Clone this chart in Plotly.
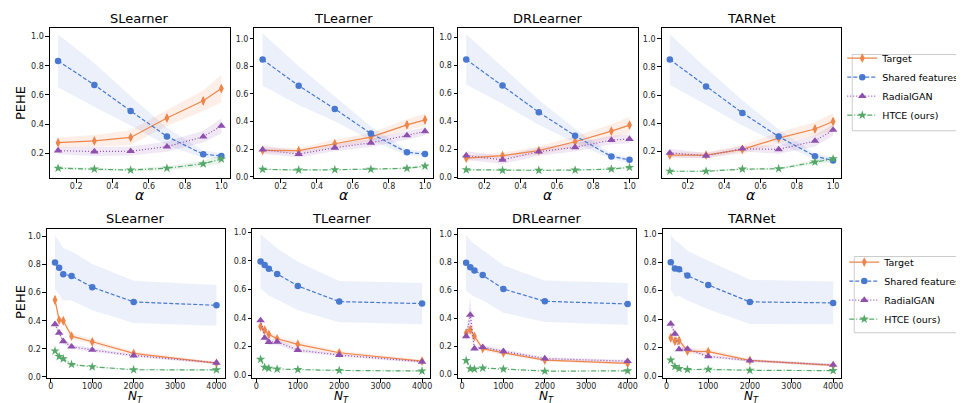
import plotly.graph_objects as go

# ---------------- data ----------------
alpha = [0.1, 0.3, 0.5, 0.7, 0.9, 1.0]
n_t = [100, 200, 300, 500, 1000, 2000, 4000]
learners = ["SLearner", "TLearner", "DRLearner", "TARNet"]
series_names = ["Target", "Shared features", "RadialGAN", "HTCE (ours)"]
alpha_ticks = [0.2, 0.4, 0.6, 0.8, 1.0]
n_ticks = [0, 1000, 2000, 3000, 4000]

# --- top row: PEHE vs alpha ---
sl_a_target = [0.274, 0.286, 0.310, 0.443, 0.560, 0.644]
sl_a_target_sd = [0.035, 0.040, 0.050, 0.055, 0.070, 0.095]
sl_a_target_err = [0.020, 0.020, 0.020, 0.020, 0.025, 0.025]
sl_a_shared = [0.833, 0.669, 0.491, 0.317, 0.195, 0.184]
sl_a_shared_sd = [0.180, 0.150, 0.100, 0.060, 0.025, 0.020]
sl_a_radial = [0.220, 0.214, 0.216, 0.247, 0.315, 0.389]
sl_a_radial_sd = [0.025, 0.030, 0.030, 0.035, 0.040, 0.050]
sl_a_htce = [0.100, 0.094, 0.087, 0.100, 0.130, 0.162]
sl_a_htce_sd = [0.010, 0.010, 0.010, 0.015, 0.020, 0.030]

tl_a_target = [0.192, 0.190, 0.240, 0.288, 0.377, 0.413]
tl_a_target_sd = [0.020, 0.020, 0.030, 0.030, 0.040, 0.045]
tl_a_target_err = [0.020, 0.020, 0.020, 0.020, 0.025, 0.030]
tl_a_shared = [0.849, 0.660, 0.492, 0.314, 0.178, 0.165]
tl_a_shared_sd = [0.190, 0.140, 0.090, 0.050, 0.020, 0.020]
tl_a_radial = [0.197, 0.165, 0.211, 0.247, 0.300, 0.330]
tl_a_radial_sd = [0.030, 0.025, 0.025, 0.030, 0.030, 0.030]
tl_a_htce = [0.055, 0.050, 0.052, 0.055, 0.062, 0.078]
tl_a_htce_sd = [0.005, 0.005, 0.005, 0.005, 0.008, 0.010]

dr_a_target = [0.135, 0.154, 0.189, 0.253, 0.329, 0.372]
dr_a_target_sd = [0.020, 0.020, 0.030, 0.040, 0.050, 0.060]
dr_a_target_err = [0.020, 0.020, 0.020, 0.020, 0.025, 0.025]
dr_a_shared = [0.842, 0.655, 0.464, 0.296, 0.147, 0.123]
dr_a_shared_sd = [0.180, 0.130, 0.090, 0.050, 0.020, 0.020]
dr_a_radial = [0.154, 0.123, 0.182, 0.213, 0.265, 0.272]
dr_a_radial_sd = [0.030, 0.030, 0.030, 0.030, 0.030, 0.030]
dr_a_htce = [0.052, 0.048, 0.048, 0.050, 0.057, 0.069]
dr_a_htce_sd = [0.005, 0.005, 0.005, 0.005, 0.006, 0.008]

tn_a_target = [0.175, 0.175, 0.215, 0.295, 0.360, 0.413]
tn_a_target_sd = [0.020, 0.020, 0.030, 0.040, 0.050, 0.060]
tn_a_target_err = [0.020, 0.020, 0.020, 0.020, 0.025, 0.025]
tn_a_shared = [0.853, 0.662, 0.474, 0.306, 0.167, 0.136]
tn_a_shared_sd = [0.180, 0.130, 0.090, 0.050, 0.020, 0.020]
tn_a_radial = [0.190, 0.170, 0.220, 0.215, 0.275, 0.353]
tn_a_radial_sd = [0.030, 0.020, 0.020, 0.030, 0.040, 0.040]
tn_a_htce = [0.060, 0.060, 0.075, 0.078, 0.125, 0.148]
tn_a_htce_sd = [0.005, 0.005, 0.008, 0.008, 0.015, 0.020]

# --- bottom row: PEHE vs N_T ---
sl_n_target = [0.548, 0.405, 0.400, 0.290, 0.250, 0.168, 0.098]
sl_n_target_sd = [0.030, 0.025, 0.025, 0.020, 0.020, 0.015, 0.010]
sl_n_target_err = [0.030, 0.020, 0.020, 0.020, 0.020, 0.015, 0.010]
sl_n_shared = [0.815, 0.777, 0.731, 0.719, 0.639, 0.534, 0.510]
sl_n_shared_sd = [0.190, 0.190, 0.185, 0.175, 0.165, 0.150, 0.145]
sl_n_radial = [0.375, 0.314, 0.253, 0.215, 0.192, 0.152, 0.100]
sl_n_radial_sd = [0.020, 0.020, 0.020, 0.015, 0.015, 0.010, 0.010]
sl_n_htce = [0.185, 0.145, 0.129, 0.089, 0.072, 0.051, 0.050]
sl_n_htce_sd = [0.010, 0.010, 0.008, 0.006, 0.005, 0.004, 0.004]

tl_n_target = [0.340, 0.315, 0.285, 0.254, 0.215, 0.156, 0.098]
tl_n_target_sd = [0.030, 0.025, 0.020, 0.020, 0.020, 0.015, 0.010]
tl_n_target_err = [0.025, 0.020, 0.020, 0.020, 0.020, 0.015, 0.010]
tl_n_shared = [0.797, 0.772, 0.746, 0.709, 0.625, 0.515, 0.501]
tl_n_shared_sd = [0.190, 0.190, 0.190, 0.180, 0.170, 0.145, 0.145]
tl_n_radial = [0.383, 0.260, 0.231, 0.233, 0.175, 0.140, 0.093]
tl_n_radial_sd = [0.020, 0.020, 0.020, 0.020, 0.015, 0.010, 0.010]
tl_n_htce = [0.110, 0.054, 0.047, 0.042, 0.038, 0.032, 0.028]
tl_n_htce_sd = [0.008, 0.005, 0.004, 0.004, 0.003, 0.003, 0.003]

dr_n_target = [0.295, 0.319, 0.272, 0.184, 0.154, 0.102, 0.078]
dr_n_target_sd = [0.030, 0.030, 0.020, 0.015, 0.015, 0.010, 0.010]
dr_n_target_err = [0.025, 0.025, 0.020, 0.015, 0.015, 0.010, 0.010]
dr_n_shared = [0.797, 0.766, 0.742, 0.709, 0.610, 0.522, 0.503]
dr_n_shared_sd = [0.200, 0.190, 0.190, 0.180, 0.170, 0.148, 0.150]
dr_n_radial = [0.272, 0.425, 0.184, 0.194, 0.165, 0.113, 0.094]
dr_n_radial_sd = [0.030, 0.130, 0.020, 0.015, 0.015, 0.010, 0.010]
dr_n_htce = [0.099, 0.040, 0.038, 0.045, 0.038, 0.023, 0.025]
dr_n_htce_sd = [0.008, 0.004, 0.004, 0.004, 0.003, 0.003, 0.003]

tn_n_target = [0.269, 0.245, 0.250, 0.175, 0.171, 0.110, 0.075]
tn_n_target_sd = [0.030, 0.030, 0.030, 0.020, 0.020, 0.010, 0.010]
tn_n_target_err = [0.025, 0.025, 0.025, 0.020, 0.020, 0.010, 0.010]
tn_n_shared = [0.800, 0.755, 0.750, 0.706, 0.640, 0.521, 0.514]
tn_n_shared_sd = [0.195, 0.200, 0.185, 0.175, 0.170, 0.155, 0.150]
tn_n_radial = [0.367, 0.297, 0.187, 0.190, 0.138, 0.108, 0.078]
tn_n_radial_sd = [0.020, 0.020, 0.015, 0.015, 0.010, 0.010, 0.010]
tn_n_htce = [0.112, 0.066, 0.052, 0.045, 0.047, 0.040, 0.038]
tn_n_htce_sd = [0.008, 0.005, 0.004, 0.004, 0.004, 0.003, 0.003]

# ---------------- styling ----------------
W, H = 964, 403
colors = ["#ee854a", "#4878d0", "#8e4fae", "#55a868"]
fills = ["rgba(238,133,74,0.13)", "rgba(72,120,208,0.11)",
         "rgba(142,79,174,0.13)", "rgba(85,168,104,0.13)"]
dashes = ["solid", "4px,2px", "1px,2px", "5px,2px,1px,2px"]
symbols = ["diamond-tall", "circle", "triangle-up", "star"]
msizes = [7, 6.5, 7.5, 7]

panels = [
    ("top", alpha, [(sl_a_target, sl_a_target_sd), (sl_a_shared, sl_a_shared_sd), (sl_a_radial, sl_a_radial_sd), (sl_a_htce, sl_a_htce_sd)], sl_a_target_err, (42, 222), (0.031, 1.059)),
    ("top", alpha, [(tl_a_target, tl_a_target_sd), (tl_a_shared, tl_a_shared_sd), (tl_a_radial, tl_a_radial_sd), (tl_a_htce, tl_a_htce_sd)], tl_a_target_err, (247, 426), (-0.010, 1.079)),
    ("top", alpha, [(dr_a_target, dr_a_target_sd), (dr_a_shared, dr_a_shared_sd), (dr_a_radial, dr_a_radial_sd), (dr_a_htce, dr_a_htce_sd)], dr_a_target_err, (451, 631), (-0.009, 1.069)),
    ("top", alpha, [(tn_a_target, tn_a_target_sd), (tn_a_shared, tn_a_shared_sd), (tn_a_radial, tn_a_radial_sd), (tn_a_htce, tn_a_htce_sd)], tn_a_target_err, (655, 835), (0.010, 1.078)),
    ("bot", n_t, [(sl_n_target, sl_n_target_sd), (sl_n_shared, sl_n_shared_sd), (sl_n_radial, sl_n_radial_sd), (sl_n_htce, sl_n_htce_sd)], sl_n_target_err, (39, 217), (-0.010, 1.055)),
    ("bot", n_t, [(tl_n_target, tl_n_target_sd), (tl_n_shared, tl_n_shared_sd), (tl_n_radial, tl_n_radial_sd), (tl_n_htce, tl_n_htce_sd)], tl_n_target_err, (245, 423), (-0.023, 1.026)),
    ("bot", n_t, [(dr_n_target, dr_n_target_sd), (dr_n_shared, dr_n_shared_sd), (dr_n_radial, dr_n_radial_sd), (dr_n_htce, dr_n_htce_sd)], dr_n_target_err, (451, 629), (-0.028, 1.040)),
    ("bot", n_t, [(tn_n_target, tn_n_target_sd), (tn_n_shared, tn_n_shared_sd), (tn_n_radial, tn_n_radial_sd), (tn_n_htce, tn_n_htce_sd)], tn_n_target_err, (656, 835), (-0.016, 1.035)),
]

row_y = {"top": (20, 172), "bot": (223, 374)}

fig = go.Figure()
layout = dict(width=W, height=H, autosize=False,
              margin=dict(l=0, r=0, t=0, b=0),
              paper_bgcolor="white", plot_bgcolor="white",
              font=dict(family="DejaVu Sans", color="#262626"),
              annotations=[], shapes=[])

for i, (row, xs, ser, terr, (px0, px1), yr) in enumerate(panels):
    k = i + 1
    xa = "x" if k == 1 else f"x{k}"
    ya = "y" if k == 1 else f"y{k}"
    py0, py1 = row_y[row]
    for s, (m, sd) in enumerate(ser):
        up = [a + b for a, b in zip(m, sd)]
        lo = [a - b for a, b in zip(m, sd)]
        fig.add_trace(go.Scatter(x=list(xs) + list(xs)[::-1], y=up + lo[::-1],
                                 fill="toself", fillcolor=fills[s], line=dict(width=0),
                                 mode="lines", hoverinfo="skip", showlegend=False,
                                 xaxis=xa, yaxis=ya))
    for s, (m, sd) in enumerate(ser):
        show = (k == 1) or (k == 5)
        tr = dict(x=xs, y=m, mode="lines+markers", name=series_names[s],
                  line=dict(color=colors[s], width=1.2, dash=dashes[s]),
                  marker=dict(symbol=symbols[s], size=msizes[s], color=colors[s],
                              line=dict(width=0)),
                  showlegend=show, legend="legend" if k == 1 else "legend2",
                  xaxis=xa, yaxis=ya)
        if s == 0:
            tr["error_y"] = dict(type="data", array=terr, visible=True,
                                 color=colors[0], thickness=1.2, width=0)
        fig.add_trace(go.Scatter(**tr))

    axkw = dict(showline=True, linecolor="black", linewidth=1, mirror=True,
                ticks="outside", ticklen=3.5, tickwidth=0.8, tickcolor="black",
                showgrid=False, zeroline=False,
                tickfont=dict(size=8, color="#262626", family="DejaVu Sans"))
    if row == "top":
        xaxis = dict(domain=[px0 / W, px1 / W], range=[0.055, 1.045],
                     tickvals=alpha_ticks, ticktext=[f"{v:.1f}" for v in alpha_ticks],
                     anchor=ya, ticklabelstandoff=-3, **axkw)
    else:
        xaxis = dict(domain=[px0 / W, px1 / W], range=[-95, 4195],
                     tickvals=n_ticks, ticktext=[str(v) for v in n_ticks],
                     anchor=ya, ticklabelstandoff=-3, **axkw)
    yaxis = dict(domain=[1 - py1 / H, 1 - py0 / H], range=list(yr),
                 tick0=0, dtick=0.2, tickformat=".1f", anchor=xa, **axkw)
    layout["xaxis" if k == 1 else f"xaxis{k}"] = xaxis
    layout["yaxis" if k == 1 else f"yaxis{k}"] = yaxis

    ty = 11 if row == "top" else 213
    layout["annotations"].append(dict(text=learners[i % 4], x=(px0 + px1) / 2 / W, y=1 - ty / H,
                                      xref="paper", yref="paper", showarrow=False,
                                      xanchor="center", yanchor="middle",
                                      font=dict(size=13, color="black")))
    if row == "top":
        layout["annotations"].append(dict(text="<i>α</i>", x=(px0 + px1) / 2 / W, y=1 - 189 / H,
                                          xref="paper", yref="paper", showarrow=False,
                                          xanchor="center", yanchor="middle",
                                          font=dict(size=14, color="black")))
    else:
        layout["annotations"].append(dict(text="<i>N</i><sub><i>T</i></sub>", x=(px0 + px1) / 2 / W,
                                          y=1 - 402.5 / H, xref="paper", yref="paper", showarrow=False,
                                          xanchor="center", yanchor="bottom",
                                          font=dict(size=12, color="black")))

for cy in (96, 297):
    layout["annotations"].append(dict(text="PEHE", x=12 / W, y=1 - cy / H, xref="paper", yref="paper",
                                      showarrow=False, textangle=-90, xanchor="center", yanchor="middle",
                                      font=dict(size=13, color="black")))

for (x0, y0, y1) in ((846, 47, 124), (848, 251, 328)):
    layout["shapes"].append(dict(type="rect", xref="paper", yref="paper",
                                 x0=x0 / W, x1=(W + 4) / W, y0=1 - y1 / H, y1=1 - y0 / H,
                                 line=dict(color="#cccccc", width=1), fillcolor="white",
                                 layer="below"))

legkw = dict(bgcolor="rgba(0,0,0,0)", borderwidth=0,
             font=dict(size=9.5, color="black", family="DejaVu Sans"),
             xanchor="left", yanchor="top", itemwidth=30, tracegroupgap=0)
layout["legend"] = dict(x=836 / W, y=1 - 36 / H, **legkw)
layout["legend2"] = dict(x=838 / W, y=1 - 242 / H, **legkw)

fig.update_layout(**layout)
fig.write_html("out.html")
